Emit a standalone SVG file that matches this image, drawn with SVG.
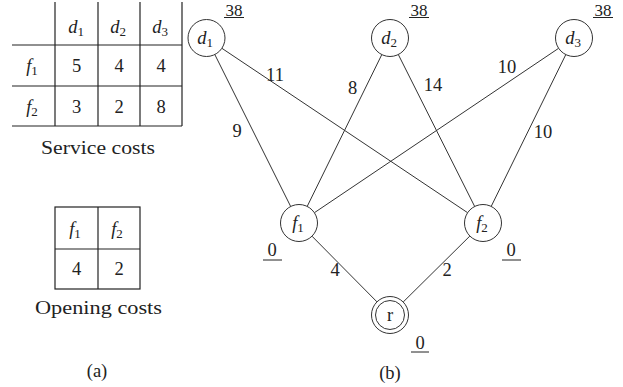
<svg xmlns="http://www.w3.org/2000/svg" width="623" height="387" viewBox="0 0 623 387">
<style>
text{font-family:"Liberation Serif","DejaVu Serif","Times New Roman",serif;font-size:18.5px;fill:#222;text-anchor:middle}
.it{font-style:italic}
.sub{font-size:13px;font-style:normal}
.w{font-size:17px}
.tl{stroke:#222;stroke-width:1.2;fill:none}
.node{fill:#fff;stroke:#333;stroke-width:1}
.edge{stroke:#333;stroke-width:1;fill:none}
.ul{stroke:#222;stroke-width:1}
</style>
<rect width="623" height="387" fill="#fff"/>
<g id="service-table">
<line class="tl" x1="55" y1="2" x2="55" y2="126"/>
<line class="tl" x1="98" y1="2" x2="98" y2="126"/>
<line class="tl" x1="140" y1="2" x2="140" y2="126"/>
<line class="tl" x1="182" y1="2" x2="182" y2="126"/>
<line class="tl" x1="12" y1="45" x2="182" y2="45"/>
<line class="tl" x1="12" y1="86" x2="182" y2="86"/>
<line class="tl" x1="12" y1="126" x2="182" y2="126"/>
<text x="76" y="33"><tspan class="it">d</tspan><tspan class="sub" dy="3">1</tspan></text>
<text x="118" y="33"><tspan class="it">d</tspan><tspan class="sub" dy="3">2</tspan></text>
<text x="160" y="33"><tspan class="it">d</tspan><tspan class="sub" dy="3">3</tspan></text>
<text x="32" y="72"><tspan class="it">f</tspan><tspan class="sub" dy="3">1</tspan></text>
<text x="32" y="113"><tspan class="it">f</tspan><tspan class="sub" dy="3">2</tspan></text>
<text x="76.5" y="72">5</text><text x="119" y="72">4</text><text x="161" y="72">4</text>
<text x="76.5" y="113">3</text><text x="119" y="113">2</text><text x="161" y="113">8</text>
<text x="98" y="154" textLength="114" lengthAdjust="spacingAndGlyphs">Service costs</text>
</g>
<g id="opening-table">
<rect class="tl" x="55" y="207" width="85" height="82"/>
<line class="tl" x1="98" y1="207" x2="98" y2="289"/>
<line class="tl" x1="55" y1="249" x2="140" y2="249"/>
<text x="75" y="235"><tspan class="it">f</tspan><tspan class="sub" dy="3">1</tspan></text>
<text x="117" y="235"><tspan class="it">f</tspan><tspan class="sub" dy="3">2</tspan></text>
<text x="76.5" y="275">4</text><text x="119" y="275">2</text>
<text x="98.5" y="314" textLength="127" lengthAdjust="spacingAndGlyphs">Opening costs</text>
<text x="97" y="377">(a)</text>
</g>
<g id="edges">
<line class="edge" x1="214.8" y1="54.5" x2="290.7" y2="206.5"/>
<line class="edge" x1="221.9" y1="48.3" x2="467.6" y2="212.7"/>
<line class="edge" x1="381.8" y1="54.6" x2="307.2" y2="206.4"/>
<line class="edge" x1="398.3" y1="54.5" x2="474.7" y2="206.5"/>
<line class="edge" x1="558.6" y1="48.3" x2="314.4" y2="212.7"/>
<line class="edge" x1="565.8" y1="54.6" x2="491.2" y2="206.4"/>
<line class="edge" x1="312" y1="236.2" x2="377" y2="301.9"/>
<line class="edge" x1="469.9" y1="236" x2="403.2" y2="302"/>
<text x="237" y="137">9</text>
<text x="275" y="81">11</text>
<text x="352.5" y="94">8</text>
<text x="433" y="91">14</text>
<text x="507" y="73">10</text>
<text x="543" y="138">10</text>
<text x="335" y="276">4</text>
<text x="447" y="276">2</text>
</g>
<g id="d1">
<circle class="node" cx="206.5" cy="38" r="18.5"/>
<text x="205" y="44"><tspan class="it">d</tspan><tspan class="sub" dy="3">1</tspan></text>
<text class="w" x="234" y="15.5">38</text><line class="ul" x1="224" y1="17.5" x2="244" y2="17.5"/>
</g>
<g id="d2">
<circle class="node" cx="390" cy="38" r="18.5"/>
<text x="389" y="44"><tspan class="it">d</tspan><tspan class="sub" dy="3">2</tspan></text>
<text class="w" x="419" y="15.5">38</text><line class="ul" x1="409" y1="17.5" x2="429" y2="17.5"/>
</g>
<g id="d3">
<circle class="node" cx="574" cy="38" r="18.5"/>
<text x="573" y="44"><tspan class="it">d</tspan><tspan class="sub" dy="3">3</tspan></text>
<text class="w" x="603" y="15.5">38</text><line class="ul" x1="593" y1="17.5" x2="613" y2="17.5"/>
</g>
<g id="f1">
<circle class="node" cx="299" cy="223" r="18.5"/>
<text x="298" y="229"><tspan class="it">f</tspan><tspan class="sub" dy="3">1</tspan></text>
<text x="272" y="256">0</text><line class="ul" x1="263" y1="260" x2="282" y2="260"/>
</g>
<g id="f2">
<circle class="node" cx="483" cy="223" r="18.5"/>
<text x="482" y="229"><tspan class="it">f</tspan><tspan class="sub" dy="3">2</tspan></text>
<text x="511" y="256">0</text><line class="ul" x1="502" y1="260" x2="521" y2="260"/>
</g>
<g id="r">
<circle class="node" cx="390" cy="315" r="18.5"/>
<circle class="node" cx="390" cy="315" r="14.5"/>
<text x="390" y="321">r</text>
<text x="420" y="349">0</text><line class="ul" x1="411" y1="352" x2="429" y2="352"/>
<text x="390" y="379">(b)</text>
</g>
</svg>
